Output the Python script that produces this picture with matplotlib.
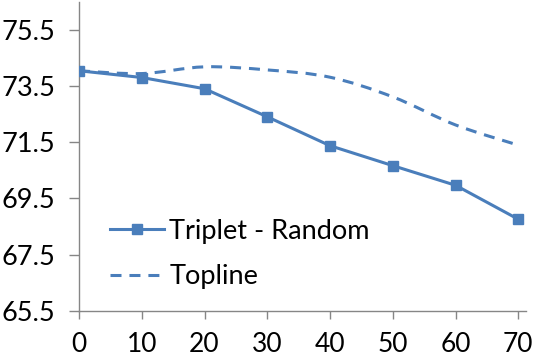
import numpy as np
import matplotlib
matplotlib.use("Agg")
import matplotlib.pyplot as plt
from matplotlib.path import Path
from matplotlib.patches import PathPatch
from matplotlib.lines import Line2D

# values
x_vals = [0, 10, 20, 30, 40, 50, 60, 70]
triplet_random = [74.05, 73.81, 73.41, 72.41, 71.38, 70.67, 69.97, 68.76]
topline = [74.05, 73.95, 74.19, 74.08, 73.82, 73.12, 72.12, 71.40]
y_ticks = [65.5, 67.5, 69.5, 71.5, 73.5, 75.5]
x_ticks = [0, 10, 20, 30, 40, 50, 60, 70]

blue = "#4a7ebb"
grey = "#868686"

plt.rcParams["font.family"] = ["Lato", "DejaVu Sans"]


# smoothed line like Excel: cubic bezier segments through the points
def smooth_path(xs, ys, t=1 / 6):
    xs = np.asarray(xs, float)
    ys = np.asarray(ys, float)
    n = len(xs)
    verts = [(xs[0], ys[0])]
    codes = [Path.MOVETO]
    for i in range(n - 1):
        p0 = i - 1 if i > 0 else i
        p3 = i + 2 if i + 2 < n else i + 1
        c1 = (xs[i] + (xs[i + 1] - xs[p0]) * t, ys[i] + (ys[i + 1] - ys[p0]) * t)
        c2 = (xs[i + 1] - (xs[p3] - xs[i]) * t, ys[i + 1] - (ys[p3] - ys[i]) * t)
        verts += [c1, c2, (xs[i + 1], ys[i + 1])]
        codes += [Path.CURVE4] * 3
    return Path(verts, codes)


fig = plt.figure(figsize=(5.36, 3.58), dpi=100)
ax = fig.add_axes([0.1474, 0.132, 0.8336, 0.8624])

dash = (3.6, 2.6)
patch = PathPatch(smooth_path(x_vals, topline), fill=False, edgecolor=blue,
                  linewidth=2.2, linestyle=(0, dash), capstyle="butt", zorder=2)
ax.add_patch(patch)

ax.plot(x_vals, triplet_random, color=blue, linewidth=2.2, marker="s",
        markersize=6.5, zorder=3)

ax.set_xlim(0, 71.2)
ax.set_ylim(65.5, 76.5)
ax.set_xticks(x_ticks)
ax.set_yticks(y_ticks)
ax.set_yticklabels([f"{v:.1f}" for v in y_ticks])

for s in ["top", "right"]:
    ax.spines[s].set_visible(False)
for s in ["left", "bottom"]:
    ax.spines[s].set_color(grey)
    ax.spines[s].set_linewidth(1.0)

ax.tick_params(axis="y", direction="out", length=7, width=1, color=grey,
               labelsize=19.5, pad=10)
ax.tick_params(axis="x", direction="out", length=6, width=1, color=grey,
               labelsize=19, pad=9)

handles = [
    Line2D([], [], color=blue, linewidth=2.2, marker="s", markersize=6.5),
    Line2D([], [], color=blue, linewidth=2.2, linestyle=(0, dash)),
]
ax.legend(handles, ["Triplet - Random", "Topline"], loc="center left",
          bbox_to_anchor=(0.069, 0.184), frameon=False, fontsize=19.5,
          borderpad=0, borderaxespad=0,
          handlelength=2.0, handletextpad=0.2, labelspacing=0.75)

fig.savefig("out.png", dpi=100)
